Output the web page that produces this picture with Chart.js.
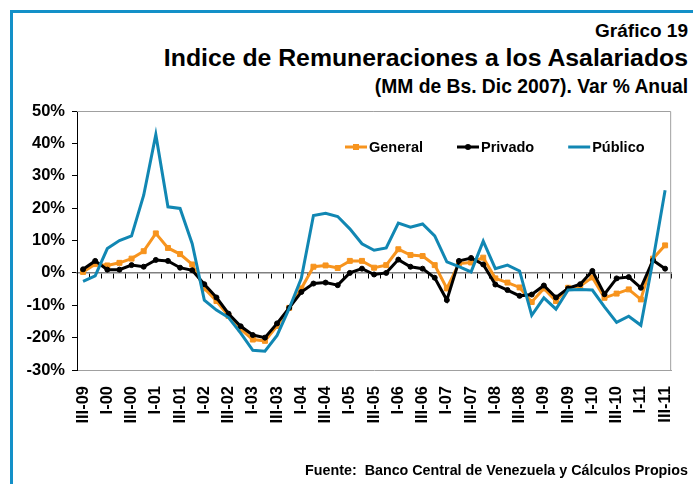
<!DOCTYPE html>
<html>
<head>
<meta charset="utf-8">
<script src="https://cdn.jsdelivr.net/npm/chart.js@4.4.1/dist/chart.umd.min.js"></script>
<style>
  html, body { margin: 0; padding: 0; background: #fff; }
  body {
    width: 693px; height: 484px; position: relative; overflow: hidden;
    font-family: "Liberation Sans", Arial, sans-serif; font-weight: bold; color: #000;
  }
  .frame {
    position: absolute; left: 10px; top: 10px; width: 700px; height: 500px;
    border-left: 3px solid #1390c8; border-top: 3px solid #1390c8;
  }
  .txt { position: absolute; right: 5px; white-space: nowrap; line-height: 1; }
  #num { top: 21px; font-size: 19px; }
  #title { top: 46px; font-size: 24.8px; }
  #sub { top: 77px; font-size: 19.3px; }
  #src { top: 463px; font-size: 14.3px; }
  #chart { position: absolute; left: 0; top: 0; }
</style>
</head>
<body>
<div class="frame"></div>
<div class="txt" id="num">Gráfico 19</div>
<div class="txt" id="title">Indice de Remuneraciones a los Asalariados</div>
<div class="txt" id="sub">(MM de Bs. Dic 2007). Var % Anual</div>
<canvas id="chart" width="693" height="484"></canvas>
<div class="txt" id="src">Fuente:&nbsp; Banco Central de Venezuela y Cálculos Propios</div>
<script>
// trimestres III-99 ... III-11 (el primero se lee "III-09" en el original)
const quarters = [
  'III-09', 'IV-99',
  'I-00', 'II-00', 'III-00', 'IV-00',
  'I-01', 'II-01', 'III-01', 'IV-01',
  'I-02', 'II-02', 'III-02', 'IV-02',
  'I-03', 'II-03', 'III-03', 'IV-03',
  'I-04', 'II-04', 'III-04', 'IV-04',
  'I-05', 'II-05', 'III-05', 'IV-05',
  'I-06', 'II-06', 'III-06', 'IV-06',
  'I-07', 'II-07', 'III-07', 'IV-07',
  'I-08', 'II-08', 'III-08', 'IV-08',
  'I-09', 'II-09', 'III-09', 'IV-09',
  'I-10', 'II-10', 'III-10', 'IV-10',
  'I-11', 'II-11', 'III-11'
];

const general = [
  0.3, 2.7, 2.3, 3.1, 4.4, 6.7, 12.2, 7.7, 5.8, 2.6, -4.8, -8.7,
  -13.3, -17.4, -20.6, -21.0, -16.4, -10.8, -4.8, 1.9, 2.3, 1.5, 3.7, 3.7, 1.6,
  2.4, 7.3, 5.5, 5.2, 2.4, -4.8, 2.9, 3.2, 4.7, -1.7, -3.0, -4.5,
  -9.0, -4.8, -8.7, -4.6, -4.1, -1.4, -7.7, -6.4, -5.1, -8.2, 4.4, 8.5
];

const privado = [
  1.1, 3.7, 1.0, 1.0, 2.4, 1.9, 4.0, 3.7, 1.6, 0.8, -3.5, -7.6,
  -12.6, -16.5, -19.2, -20.0, -15.6, -10.8, -5.9, -3.3, -3.0, -3.8, 0.0, 1.3, -0.5,
  0.0, 4.1, 1.9, 1.3, -1.5, -8.4, 3.7, 4.6, 2.6, -3.6, -5.3, -7.1,
  -6.7, -3.9, -7.6, -4.8, -3.5, 0.6, -6.6, -1.7, -1.3, -4.6, 3.9, 1.3
];

const publico = [
  -2.6, -0.9, 7.5, 10.0, 11.4, 24.0, 42.7, 20.4, 19.9, 9.0, -8.4, -11.5,
  -13.8, -18.6, -23.9, -24.2, -19.3, -11.0, -1.7, 17.7, 18.4, 17.4, 13.6, 9.0, 7.0,
  7.7, 15.4, 14.1, 15.1, 11.4, 3.4, 1.9, 0.3, 9.8, 1.3, 2.4, 0.6,
  -13.1, -7.7, -11.2, -5.3, -5.1, -5.3, -10.5, -15.3, -13.4, -16.2, 3.9, 25.5
];

const yTicks = [-30, -20, -10, 0, 10, 20, 30, 40, 50];

const FONT = '"Liberation Sans", Arial, sans-serif';
const ORANGE = '#f7941e';
const BLUE = '#1187b3';

// marco gris del área de trazado (arriba y derecha)
const plotFrame = {
  id: 'plotFrame',
  beforeDatasetsDraw(chart) {
    const { ctx, chartArea: a } = chart;
    ctx.save();
    ctx.strokeStyle = '#a0a0a0';
    ctx.lineWidth = 1;
    ctx.beginPath();
    ctx.moveTo(a.left, a.top + 0.5);
    ctx.lineTo(a.right - 0.5, a.top + 0.5);
    ctx.lineTo(a.right - 0.5, a.bottom);
    ctx.stroke();
    ctx.restore();
  }
};

// leyenda en una fila dentro del área de trazado
const inlineLegend = {
  id: 'inlineLegend',
  afterDraw(chart) {
    const { ctx, chartArea: a } = chart;
    ctx.save();
    ctx.font = 'bold 14.5px ' + FONT;
    ctx.textBaseline = 'middle';
    let x = a.left + 268;
    const y = a.top + 36;
    chart.data.datasets.forEach(ds => {
      ctx.strokeStyle = ds.borderColor;
      ctx.lineWidth = 3;
      ctx.beginPath();
      ctx.moveTo(x, y);
      ctx.lineTo(x + 22, y);
      ctx.stroke();
      ctx.fillStyle = ds.borderColor;
      if (ds.pointStyle === 'rect' && ds.pointRadius) {
        ctx.fillRect(x + 8, y - 3, 6, 6);
      } else if (ds.pointRadius) {
        ctx.beginPath();
        ctx.arc(x + 11, y, 3, 0, Math.PI * 2);
        ctx.fill();
      }
      ctx.fillStyle = '#000';
      ctx.fillText(ds.label, x + 24, y + 1);
      x += 24 + ctx.measureText(ds.label).width + 34;
    });
    ctx.restore();
  }
};

new Chart(document.getElementById('chart'), {
  type: 'line',
  data: {
    labels: quarters,
    datasets: [
      {
        label: 'General',
        data: general,
        borderColor: ORANGE,
        backgroundColor: ORANGE,
        borderWidth: 3,
        pointStyle: 'rect',
        pointRadius: 3.5,
        pointBorderWidth: 1,
        tension: 0,
        order: 3
      },
      {
        label: 'Privado',
        data: privado,
        borderColor: '#000',
        backgroundColor: '#000',
        borderWidth: 3,
        pointStyle: 'circle',
        pointRadius: 2.5,
        pointBorderWidth: 1,
        tension: 0,
        order: 2
      },
      {
        label: 'Público',
        data: publico,
        borderColor: BLUE,
        backgroundColor: BLUE,
        borderWidth: 3,
        pointRadius: 0,
        tension: 0,
        order: 1
      }
    ]
  },
  options: {
    responsive: false,
    animation: false,
    layout: { padding: { top: 111, right: 9, left: 0, bottom: 0 } },
    plugins: {
      legend: { display: false },
      tooltip: { enabled: false }
    },
    scales: {
      x: {
        type: 'category',
        offset: true,
        position: 'bottom',
        grid: { display: false },
        border: { color: '#a0a0a0', width: 1 },
        ticks: {
          autoSkip: false,
          maxRotation: 90,
          minRotation: 90,
          padding: 8,
          color: '#000',
          font: { family: FONT, size: 16.5, weight: 'bold' },
          callback: (v, i) => (i % 2 === 0 ? quarters[i] : '')
        },
        afterFit: s => { s.height = 114; }
      },
      x0: {
        type: 'category',
        axis: 'x',
        offset: true,
        position: { y: 0 },
        grid: { offset: true, drawOnChartArea: false, tickLength: 5, color: '#000' },
        border: { color: '#808080', width: 1.5 },
        ticks: { display: false }
      },
      y: {
        min: -30,
        max: 50,
        afterBuildTicks: s => { s.ticks = yTicks.map(v => ({ value: v })); },
        grid: { drawOnChartArea: false, tickLength: 5, color: '#000' },
        border: { color: '#000', width: 1 },
        ticks: {
          padding: 7,
          color: '#000',
          font: { family: FONT, size: 16.5, weight: 'bold' },
          callback: v => v + '%'
        },
        afterFit: s => { s.width = 77; }
      }
    }
  },
  plugins: [plotFrame, inlineLegend]
});
</script>
</body>
</html>
